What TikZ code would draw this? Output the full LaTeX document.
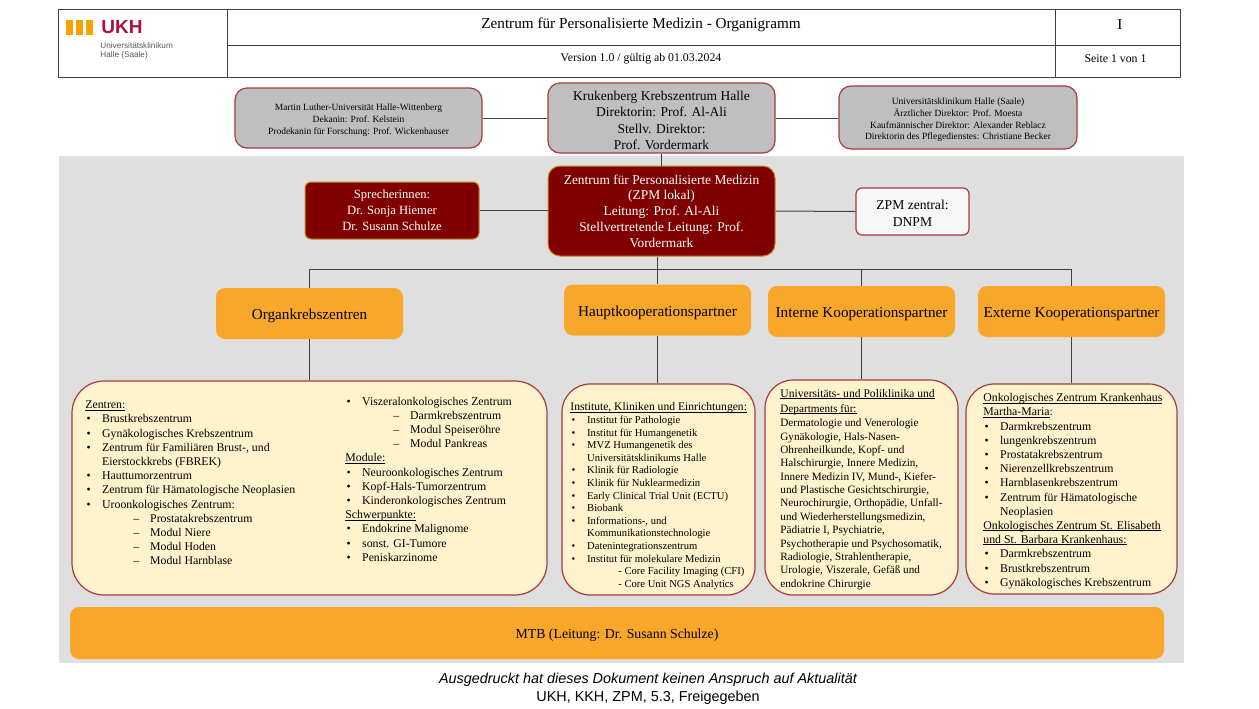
\documentclass[tikz,border=0pt]{standalone}
\usepackage{fontspec}
\setmainfont{Liberation Serif}
\newfontfamily\footfont{Liberation Sans}
\definecolor{bandgrey}{HTML}{DFDFDF}
\definecolor{topgrey}{HTML}{BFBFBF}
\definecolor{borderred}{HTML}{A63A3E}
\definecolor{darkred}{HTML}{800000}
\definecolor{goldline}{HTML}{C98A14}
\definecolor{zpmorange}{HTML}{F9A72B}
\definecolor{cream}{HTML}{FFF2CC}
\definecolor{ukhred}{HTML}{AE1040}
\definecolor{ukhorange}{HTML}{F9A300}
\newsavebox{\zpmheadbox}
\newcommand{\zpmitem}[1]{\makebox[8.4pt][l]{\hspace{0.6pt}\textbullet}#1}
\newcommand{\zpmcont}[1]{\hspace{8.4pt}#1}
\newcommand{\zpmsub}[1]{\hspace{24pt}\makebox[8.4pt][l]{--}#1}
\newcommand{\zpmhead}[1]{\sbox{\zpmheadbox}{#1}\rlap{\rule[-0.75pt]{\wd\zpmheadbox}{0.3pt}}\usebox{\zpmheadbox}}
\newcommand{\zpmdrop}[1]{\rule{0pt}{#1}}
\tikzset{
	greybox/.style={draw=borderred, fill=topgrey, line width=0.6pt, rounded corners=6pt, align=center, inner sep=0pt},
	redbox/.style={draw=goldline, fill=darkred, text=white, line width=0.5pt, rounded corners=6pt, align=center, inner sep=0pt, font=\fontsize{6.7}{7.85}\selectfont},
	orangebox/.style={fill=zpmorange, rounded corners=4.5pt, align=center, inner sep=0pt, minimum width=93.5pt, minimum height=25.5pt, text height=7.5pt, text depth=1.5pt, font=\fontsize{7.6}{8.5}\selectfont},
	creambox/.style={draw=borderred, fill=cream, line width=0.6pt, inner sep=0pt},
	listtext/.style={anchor=north west, align=left, inner sep=0pt},
	headtext/.style={inner sep=0pt, align=center},
	link/.style={draw=black!75, line width=0.5pt}
}
\begin{document}
\begin{tikzpicture}[x=0.5pt,y=-0.5pt]
	\useasboundingbox (0,0) rectangle (1259,708);
	\fill[bandgrey] (59,156) rectangle (1184,663);
	\draw[black!75, line width=0.5pt] (58,9) rectangle (1180,77);
	\draw[black!75, line width=0.5pt] (227,9) -- (227,77);
	\draw[black!75, line width=0.5pt] (1055,9) -- (1055,77);
	\draw[black!75, line width=0.5pt] (227,45) -- (1180,45);
	\fill[ukhorange] (66,20) rectangle (73,35);
	\fill[ukhorange] (76,20) rectangle (83,35);
	\fill[ukhorange] (86,20) rectangle (93,35);
	\node (ukhname) at (122,27.5)[headtext, text=ukhred, font=\fontsize{9.5}{10}\selectfont\footfont\bfseries] {UKH};
	\node (ukhsub) at (100,51)[headtext, anchor=west, align=left, text=black!65, font=\fontsize{4.1}{4.7}\selectfont\footfont] {Universitätsklinikum\\Halle (Saale)};
	\node (title) at (641,24.5)[headtext, font=\fontsize{7.6}{9}\selectfont] {Zentrum für Personalisierte Medizin - Organigramm};
	\node (version) at (641,59)[headtext, font=\fontsize{5.9}{7}\selectfont] {Version 1.0 / gültig ab 01.03.2024};
	\node (chapter) at (1120,24.5)[headtext, font=\fontsize{7.6}{9}\selectfont] {I};
	\node (pageno) at (1115.5,59)[headtext, font=\fontsize{5.9}{7}\selectfont] {Seite 1 von 1};

	\node (mlu) at (358.5,118)[greybox, minimum width=123.5pt, minimum height=30pt, font=\fontsize{4.75}{6}\selectfont] {\zpmdrop{5.8pt}Martin Luther-Universität Halle-Wittenberg\\Dekanin: Prof. Kelstein\\Prodekanin für Forschung: Prof. Wickenhauser};
	\node (kruk) at (661.5,118)[greybox, minimum width=113.5pt, minimum height=35pt, font=\fontsize{6.75}{8.25}\selectfont] {\zpmdrop{7.2pt}Krukenberg Krebszentrum Halle\\Direktorin: Prof. Al-Ali\\Stellv. Direktor:\\Prof. Vordermark};
	\node (ukh) at (958,117.5)[greybox, minimum width=119pt, minimum height=31.5pt, font=\fontsize{4.75}{5.85}\selectfont] {\zpmdrop{5.8pt}Universitätsklinikum Halle (Saale)\\Ärztlicher Direktor: Prof. Moesta\\Kaufmännischer Direktor: Alexander Reblacz\\Direktorin des Pflegedienstes: Christiane Becker};
	\node (zpm) at (661.5,211)[redbox, minimum width=113.5pt, minimum height=45pt] {Zentrum für Personalisierte Medizin\\(ZPM lokal)\\Leitung: Prof. Al-Ali\\Stellvertretende Leitung: Prof.\\Vordermark};
	\node (speaker) at (392,210.5)[redbox, rounded corners=3pt, minimum width=87pt, minimum height=28.5pt, font=\fontsize{6.3}{8}\selectfont] {Sprecherinnen:\\Dr. Sonja Hiemer\\Dr. Susann Schulze};
	\node (zentral) at (912.5,211.5)[draw=borderred, fill=black!3, line width=0.6pt, rounded corners=3pt, align=center, inner sep=0pt, minimum width=56.5pt, minimum height=23.5pt, font=\fontsize{6.8}{8.4}\selectfont] {\zpmdrop{6.8pt}ZPM zentral:\\DNPM};

	\node (organ) at (309.5,313.5)[orangebox] {Organkrebszentren};
	\node (haupt) at (657.5,310)[orangebox] {Hauptkooperationspartner};
	\node (intern) at (861.5,311.5)[orangebox] {Interne Kooperationspartner};
	\node (extern) at (1071.5,311.5)[orangebox] {Externe Kooperationspartner};

	\node (organbox) at (309.5,488)[creambox, rounded corners=16pt, minimum width=237.5pt, minimum height=107pt] {};
	\node (hauptbox) at (658.5,489.5)[creambox, rounded corners=14pt, minimum width=96.5pt, minimum height=105.5pt] {};
	\node (internbox) at (861.5,487.5)[creambox, rounded corners=14pt, minimum width=96.5pt, minimum height=107.5pt] {};
	\node (externbox) at (1071.5,489)[creambox, rounded corners=14pt, minimum width=105.5pt, minimum height=105pt] {};
	\node (mtb) at (617,633)[fill=zpmorange, rounded corners=4.5pt, inner sep=0pt, minimum width=547pt, minimum height=26pt, text height=7pt, text depth=1.4pt, font=\fontsize{6.9}{8.5}\selectfont] {MTB (Leitung: Dr. Susann Schulze)};

	\coordinate (busjoin) at (657.5,269);
	\draw[link] (mlu.east |- kruk.west) -- (kruk.west);
	\draw[link] (kruk.east) -- (kruk.east -| ukh.west);
	\draw[link] (kruk.south) -- (zpm.north);
	\draw[link] (speaker.east) -- (speaker.east -| zpm.west);
	\draw[link] (zpm.east) -- (zentral.west);
	\draw[link] (haupt.north) -- (haupt.north |- zpm.south);
	\draw[link] (organ.north) |- (busjoin);
	\draw[link] (intern.north) |- (busjoin);
	\draw[link] (extern.north) |- (busjoin);
	\draw[link] (organ.south) -- (organbox.north);
	\draw[link] (haupt.south) -- (haupt.south |- hauptbox.north);
	\draw[link] (intern.south) -- (internbox.north);
	\draw[link] (extern.south) -- (externbox.north);

	\node (organleft) at (85,400.5)[listtext, font=\fontsize{5.9}{7.1}\selectfont] {\zpmhead{Zentren:}\\
		\zpmitem{Brustkrebszentrum}\\
		\zpmitem{Gynäkologisches Krebszentrum}\\
		\zpmitem{Zentrum für Familiären Brust-, und}\\
		\zpmcont{Eierstockkrebs (FBREK)}\\
		\zpmitem{Hauttumorzentrum}\\
		\zpmitem{Zentrum für Hämatologische Neoplasien}\\
		\zpmitem{Uroonkologisches Zentrum:}\\
		\zpmsub{Prostatakrebszentrum}\\
		\zpmsub{Modul Niere}\\
		\zpmsub{Modul Hoden}\\
		\zpmsub{Modul Harnblase}};
	\node (organright) at (345,396.5)[listtext, font=\fontsize{5.9}{7.1}\selectfont] {\zpmitem{Viszeralonkologisches Zentrum}\\
		\zpmsub{Darmkrebszentrum}\\
		\zpmsub{Modul Speiseröhre}\\
		\zpmsub{Modul Pankreas}\\
		\zpmhead{Module:}\\
		\zpmitem{Neuroonkologisches Zentrum}\\
		\zpmitem{Kopf-Hals-Tumorzentrum}\\
		\zpmitem{Kinderonkologisches Zentrum}\\
		\zpmhead{Schwerpunkte:}\\
		\zpmitem{Endokrine Malignome}\\
		\zpmitem{sonst. GI-Tumore}\\
		\zpmitem{Peniskarzinome}};
	\node (hauptlist) at (570,402.5)[listtext, font=\fontsize{5.3}{6.3}\selectfont] {\zpmhead{\fontsize{5.8}{6.3}\selectfont Institute, Kliniken und Einrichtungen:}\\
		\zpmitem{Institut für Pathologie}\\
		\zpmitem{Institut für Humangenetik}\\
		\zpmitem{MVZ Humangenetik des}\\
		\zpmcont{Universitätsklinikums Halle}\\
		\zpmitem{Klinik für Radiologie}\\
		\zpmitem{Klinik für Nuklearmedizin}\\
		\zpmitem{Early Clinical Trial Unit (ECTU)}\\
		\zpmitem{Biobank}\\
		\zpmitem{Informations-, und}\\
		\zpmcont{Kommunikationstechnologie}\\
		\zpmitem{Datenintegrationszentrum}\\
		\zpmitem{Institut für molekulare Medizin}\\
		\hspace{24pt}- Core Facility Imaging (CFI)\\
		\hspace{24pt}- Core Unit NGS Analytics};
	\node (internlist) at (780,389)[listtext, font=\fontsize{5.6}{6.67}\selectfont] {\zpmhead{\fontsize{5.8}{6.67}\selectfont Universitäts- und Poliklinika und}\\[0.8pt]
		\zpmhead{Departments für:}\\[0.6pt]
		Dermatologie und Venerologie\\
		Gynäkologie, Hals-Nasen-\\
		Ohrenheilkunde, Kopf- und\\
		Halschirurgie, Innere Medizin,\\
		Innere Medizin IV, Mund-, Kiefer-\\
		und Plastische Gesichtschirurgie,\\
		Neurochirurgie, Orthopädie, Unfall-\\
		und Wiederherstellungsmedizin,\\
		Pädiatrie I, Psychiatrie,\\
		Psychotherapie und Psychosomatik,\\
		Radiologie, Strahlentherapie,\\
		Urologie, Viszerale, Gefäß und\\
		endokrine Chirurgie};
	\node (externlist) at (983,393)[listtext, font=\fontsize{5.9}{7.1}\selectfont] {\zpmhead{Onkologisches Zentrum Krankenhaus}\\
		\zpmhead{Martha-Maria}:\\
		\zpmitem{Darmkrebszentrum}\\
		\zpmitem{lungenkrebszentrum}\\
		\zpmitem{Prostatakrebszentrum}\\
		\zpmitem{Nierenzellkrebszentrum}\\
		\zpmitem{Harnblasenkrebszentrum}\\
		\zpmitem{Zentrum für Hämatologische}\\
		\zpmcont{Neoplasien}\\
		\zpmhead{Onkologisches Zentrum St. Elisabeth}\\
		\zpmhead{und St. Barbara Krankenhaus:}\\
		\zpmitem{Darmkrebszentrum}\\
		\zpmitem{Brustkrebszentrum}\\
		\zpmitem{Gynäkologisches Krebszentrum}};

	\node (footone) at (648,679.5)[headtext, font=\fontsize{7.2}{8.5}\selectfont\footfont\itshape] {Ausgedruckt hat dieses Dokument keinen Anspruch auf Aktualität};
	\node (foottwo) at (648,697.5)[headtext, font=\fontsize{7.2}{8.5}\selectfont\footfont] {UKH, KKH, ZPM, 5.3, Freigegeben};
\end{tikzpicture}
\end{document}
